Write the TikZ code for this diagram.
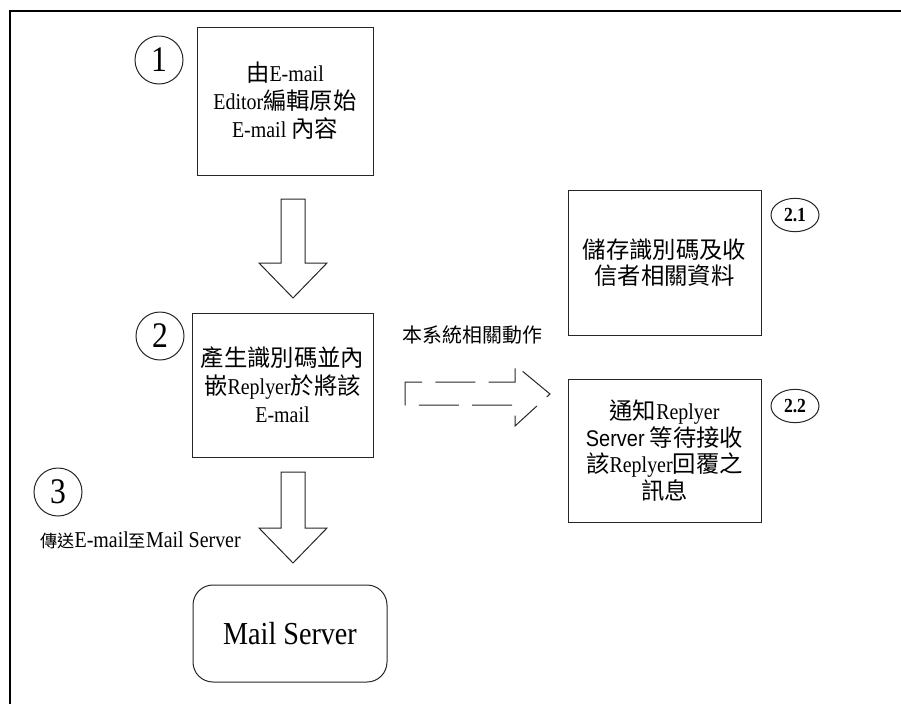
\documentclass[tikz,border=0pt]{standalone}
\usepackage{fontspec}
\setmainfont[FakeStretch=0.88]{Liberation Serif}
\newfontfamily\zhfont[Scale=1.03]{Noto Sans CJK TC}
\newfontfamily\arialfont[FakeStretch=0.88]{Liberation Sans}
\newcommand{\zhtxt}[1]{{\zhfont #1}}
\usetikzlibrary{shapes.geometric}

\tikzset{
  stepbox/.style={draw=black!85, line width=0.75pt, align=center, inner sep=2pt,
    font=\fontsize{17}{21}\selectfont},
  numcirc/.style={draw=black!85, line width=0.75pt, circle, minimum size=36pt,
    inner sep=0pt, font=\fontsize{27}{27}\selectfont},
  subcirc/.style={draw=black!85, line width=0.75pt, ellipse, minimum width=36pt,
    minimum height=25pt, inner sep=0pt, font=\bfseries\fontsize{15}{15}\selectfont},
  blockarrow/.style={draw=black!85, line width=0.75pt, line join=miter},
}

\begin{document}
\begin{tikzpicture}[x=0.75pt, y=-0.75pt]
    \useasboundingbox (0,0) rectangle (901,704);
    % frame
    \draw[line width=1.5pt] (10,704) -- (10,11) -- (901,11);

    % steps
    \node[stepbox, minimum width=132pt, minimum height=111pt] (edit) at (285,101)
        {\zhtxt{由}E-mail\\Editor\zhtxt{編輯原始}\\E-mail \zhtxt{內容}};
    \node[stepbox, minimum width=135.75pt, minimum height=108pt] (embed) at (282.5,385)
        {\zhtxt{產生識別碼並內}\\\zhtxt{嵌}Replyer\zhtxt{於將該}\\E-mail};
    \node[stepbox, minimum width=144.75pt, minimum height=108.75pt,
        font=\fontsize{17}{20}\selectfont] (store) at (664.5,262.5)
        {\zhtxt{儲存識別碼及收}\\\zhtxt{信者相關資料}};
    \node[stepbox, minimum width=144.75pt, minimum height=107.25pt,
        font=\fontsize{17}{20}\selectfont] (notify) at (664.5,450.5)
        {\zhtxt{通知}Replyer\\{\arialfont Server} \zhtxt{等待接收}\\\zhtxt{該}Replyer\zhtxt{回覆之}\\\zhtxt{訊息}};
    \node[draw=black!85, line width=0.75pt, rounded corners=15pt, minimum width=145.5pt,
        minimum height=72.75pt, font=\fontsize{24}{24}\selectfont] (mail) at (290,633.5) {Mail Server};

    % step numbers
    \node[numcirc] (n1) at (159,60) {1};
    \node[numcirc] (n2) at (160,336) {2};
    \node[numcirc] (n3) at (58,492) {3};
    \node[subcirc] (n21) at (795,215) {2.1};
    \node[subcirc] (n22) at (795,406) {2.2};

    % labels
    \node[font=\fontsize{14.5}{16}\selectfont] (lblsys) at (472.5,335) {\zhtxt{本系統相關動作}};
    \node[font=\fontsize{17}{19}\selectfont] (lblsend) at (140.5,540)
        {{\fontsize{12.5}{15}\selectfont\zhtxt{傳送}}E-mail{\fontsize{12.5}{15}\selectfont\zhtxt{至}}Mail Server};

    % block arrows
    \coordinate (a1) at (292.5,199);
    \coordinate (a2) at (292.5,472);
    \foreach \arrtop/\shaft in {a1/64, a2/56} {
        \draw[blockarrow] (\arrtop) ++(-11.5,0) -- ++(0,\shaft) -- ++(-22,0) -- ++(34,35)
            -- ++(34,-35) -- ++(-22,0) -- ++(0,-\shaft) -- cycle;
    };
    \coordinate (d1) at (405,405);
    \draw[blockarrow, dash pattern=on 30pt off 10pt] (d1) -- ++(0,-23) -- ++(110,0)
        -- ++(0,-17) -- ++(35,29) -- ++(-35,32) -- ++(0,-21) -- cycle;
\end{tikzpicture}
\end{document}
